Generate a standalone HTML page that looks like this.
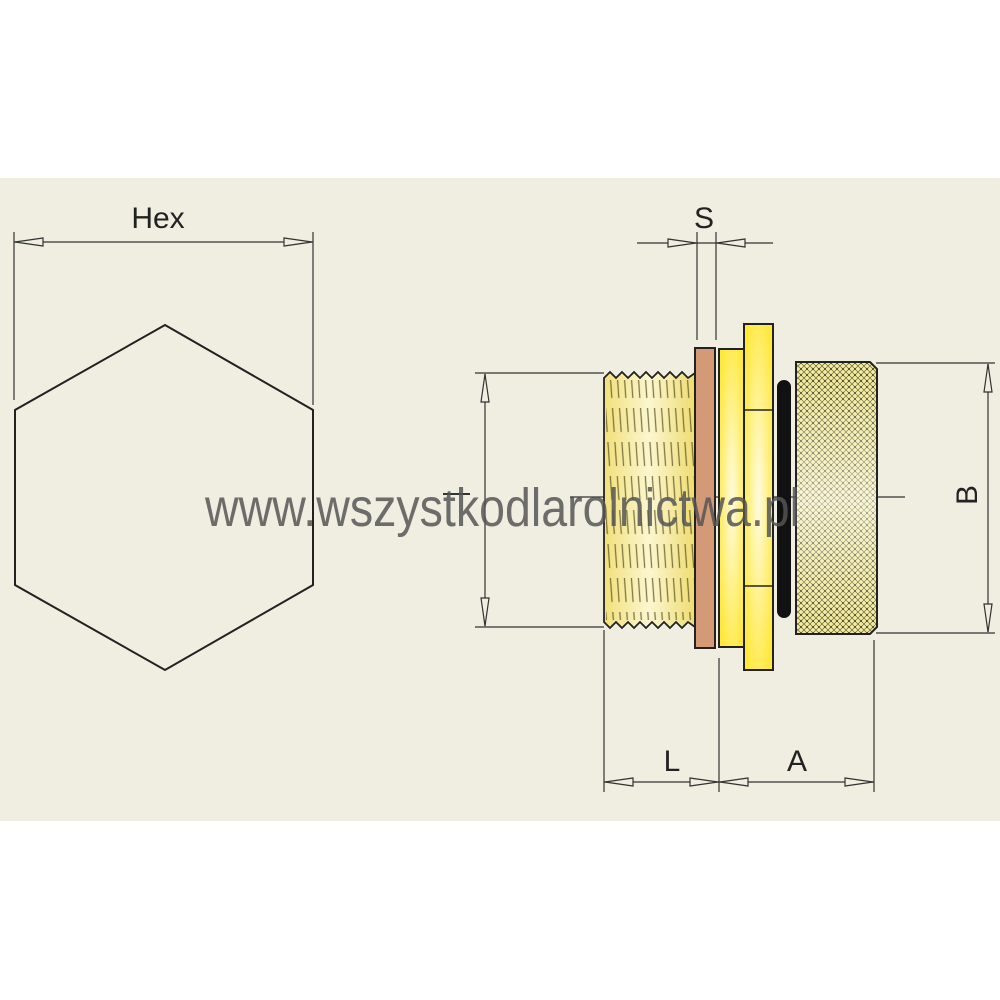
<!DOCTYPE html>
<html><head><meta charset="utf-8"><style>html,body{margin:0;padding:0;background:#fff}svg{display:block}</style></head>
<body>
<svg width="1000" height="1000" viewBox="0 0 1000 1000" xmlns="http://www.w3.org/2000/svg">
<defs>
<pattern id="knurl" width="6" height="6" patternUnits="userSpaceOnUse">
<rect width="6" height="6" fill="#f4ec9a"/>
<path d="M0 0L6 6M6 0L0 6" stroke="#6a6440" stroke-width="0.7"/>
<circle cx="3" cy="3" r="0.9" fill="#333"/>
</pattern>
<linearGradient id="thr" x1="0" x2="1">
<stop offset="0" stop-color="#f2e07a"/><stop offset="0.5" stop-color="#fbf6d0"/><stop offset="1" stop-color="#efdc70"/>
</linearGradient>
<pattern id="thrl" width="7" height="34" patternUnits="userSpaceOnUse" patternTransform="skewX(4)">
<line x1="3" y1="0" x2="3" y2="24" stroke="#5a5020" stroke-width="1.3"/>
</pattern>
<radialGradient id="yel" cx="0.5" cy="0.5" r="0.6">
<stop offset="0" stop-color="#fffbe0"/><stop offset="1" stop-color="#ffe83a"/>
</radialGradient>
<linearGradient id="kshade" x1="0" x2="0" y1="0" y2="1">
<stop offset="0" stop-color="#fff" stop-opacity="0"/><stop offset="0.5" stop-color="#fff" stop-opacity="0.55"/><stop offset="1" stop-color="#fff" stop-opacity="0"/>
</linearGradient>
</defs>
<rect x="0" y="0" width="1000" height="1000" fill="#fff"/>
<rect x="0" y="178" width="1000" height="643" fill="#efeee0"/>

<g stroke="#333" fill="none" stroke-width="1.2">
<line x1="14" y1="232" x2="14" y2="400"/>
<line x1="313" y1="232" x2="313" y2="405"/>
<line x1="14" y1="242" x2="313" y2="242"/>
<path d="M15 242 L43 238 L43 246 Z" fill="#efeee0"/>
<path d="M312 242 L284 238 L284 246 Z" fill="#efeee0"/>
</g>
<polygon points="165,325 313,410 313,585 165,670 15,585 15,410" fill="none" stroke="#222" stroke-width="2"/>
<text x="158" y="228" font-family="Liberation Sans, sans-serif" font-size="30" fill="#222" text-anchor="middle">Hex</text>

<g stroke="#333" fill="none" stroke-width="1.2">
<line x1="697" y1="232" x2="697" y2="340"/>
<line x1="716" y1="232" x2="716" y2="340"/>
<line x1="637" y1="243" x2="773" y2="243"/>
<path d="M696 243 L668 239 L668 247 Z" fill="#efeee0"/>
<path d="M717 243 L745 239 L745 247 Z" fill="#efeee0"/>
</g>
<text x="704" y="228" font-family="Liberation Sans, sans-serif" font-size="30" fill="#222" text-anchor="middle">S</text>

<g stroke="#333" fill="none" stroke-width="1.2">
<line x1="475" y1="373" x2="604" y2="373"/>
<line x1="475" y1="627" x2="604" y2="627"/>
<line x1="485" y1="374" x2="485" y2="626"/>
<path d="M485 374 L481 402 L489 402 Z" fill="#efeee0"/>
<path d="M485 626 L481 598 L489 598 Z" fill="#efeee0"/>
<line x1="443" y1="494" x2="470" y2="494" stroke-width="2"/>
<line x1="570" y1="497" x2="905" y2="497"/>
</g>

<g stroke="#333" fill="none" stroke-width="1.2">
<line x1="876" y1="363" x2="995" y2="363"/>
<line x1="876" y1="633" x2="995" y2="633"/>
<line x1="988" y1="364" x2="988" y2="632"/>
<path d="M988 364 L984 392 L992 392 Z" fill="#efeee0"/>
<path d="M988 632 L984 604 L992 604 Z" fill="#efeee0"/>
</g>
<text transform="translate(977,495) rotate(-90)" font-family="Liberation Sans, sans-serif" font-size="30" fill="#222" text-anchor="middle">B</text>

<g stroke="#333" fill="none" stroke-width="1.2">
<line x1="604" y1="630" x2="604" y2="792"/>
<line x1="719" y1="658" x2="719" y2="792"/>
<line x1="874" y1="640" x2="874" y2="792"/>
<line x1="604" y1="782" x2="874" y2="782"/>
<path d="M605 782 L633 778 L633 786 Z" fill="#efeee0"/>
<path d="M718 782 L690 778 L690 786 Z" fill="#efeee0"/>
<path d="M720 782 L748 778 L748 786 Z" fill="#efeee0"/>
<path d="M873 782 L845 778 L845 786 Z" fill="#efeee0"/>
</g>
<text x="672" y="771" font-family="Liberation Sans, sans-serif" font-size="30" fill="#222" text-anchor="middle">L</text>
<text x="797" y="771" font-family="Liberation Sans, sans-serif" font-size="30" fill="#222" text-anchor="middle">A</text>

<path d="M604 378 L610 372 L616 378 L622 372 L628 378 L634 372 L640 378 L646 372 L652 378 L658 372 L664 378 L670 372 L676 378 L682 372 L688 378 L695 373 L695 627 L688 622 L682 628 L676 622 L670 628 L664 622 L658 628 L652 622 L646 628 L640 622 L634 628 L628 622 L622 628 L616 622 L610 628 L604 622 Z" fill="url(#thr)" stroke="#222" stroke-width="1.8"/>
<rect x="606" y="380" width="88" height="240" fill="url(#thrl)" opacity="0.75"/>
<rect x="695" y="348" width="20" height="300" fill="#d49a78" stroke="#222" stroke-width="2"/>
<rect x="719" y="349" width="26" height="298" fill="url(#yel)" stroke="#222" stroke-width="2"/>
<rect x="744" y="324" width="29" height="346" fill="url(#yel)" stroke="#222" stroke-width="2"/>
<line x1="744" y1="410" x2="773" y2="410" stroke="#222" stroke-width="1.5"/>
<line x1="744" y1="586" x2="773" y2="586" stroke="#222" stroke-width="1.5"/>
<rect x="777" y="380" width="14" height="238" rx="7" fill="#111"/>
<path d="M796 362 L870 362 L877 369 L877 627 L870 634 L796 634 Z" fill="url(#knurl)" stroke="#222" stroke-width="2"/>
<rect x="797" y="380" width="79" height="240" fill="url(#kshade)"/>

<text x="205" y="526" textLength="595" lengthAdjust="spacingAndGlyphs" font-family="Liberation Sans, sans-serif" font-size="54" fill="#555" fill-opacity="0.85">www.wszystkodlarolnictwa.pl</text>
</svg>
</body></html>
